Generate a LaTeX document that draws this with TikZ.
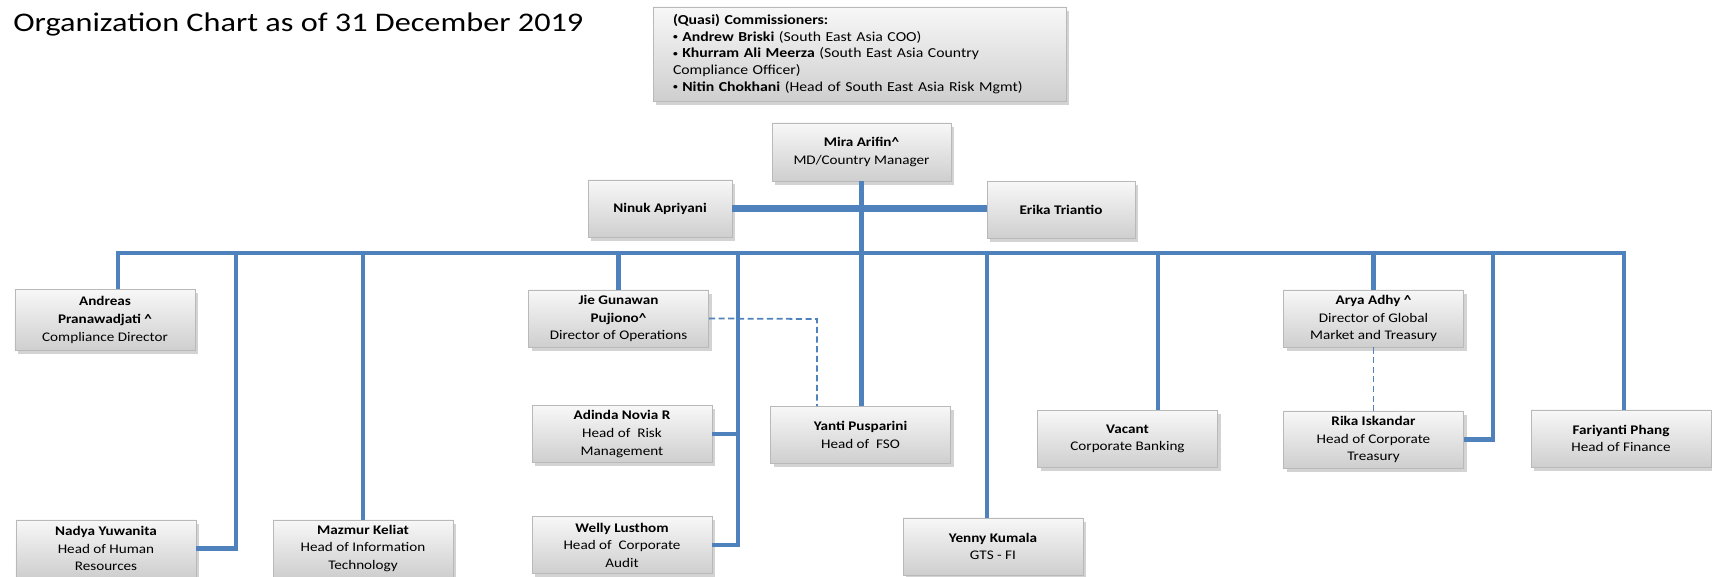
\documentclass[tikz,border=0pt]{standalone}
\usepackage{fontspec}
\setmainfont[FakeStretch=1.15]{Carlito}
\newfontfamily\titlefont[FakeStretch=1.2]{Carlito}
\usetikzlibrary{shadows}
\definecolor{orgblue}{RGB}{79,129,189}
\newcommand{\smallbul}{\raisebox{0.2ex}{\scalebox{0.6}{\textbullet}}}
\tikzset{
  orgbox/.style={draw=gray!55, line width=0.4pt, top color=gray!6, bottom color=gray!38,
    drop shadow={opacity=0.35, shadow xshift=0.6mm, shadow yshift=-0.8mm},
    minimum width=36mm, minimum height=11.4mm, inner sep=1pt, align=center,
    font=\fontsize{7.5}{10}\selectfont},
  orgline/.style={orgblue, line width=2.8pt},
  mainline/.style={orgblue, line width=4.2pt},
  dotline/.style={orgblue, line width=1pt, dash pattern=on 3.5pt off 2pt}
}
\begin{document}
\begin{tikzpicture}[x=0.2mm, y=-0.2mm]
    \useasboundingbox (0,0) rectangle (1712,577);

    % Title
    \node[anchor=base west, inner sep=0pt, font=\titlefont\fontsize{15.3}{18}\selectfont] (title) at (13,32) {Organization Chart as of 31 December 2019};

    % Commissioners
    \node[orgbox, align=left, text width=74.6mm, minimum width=82.6mm, minimum height=18.8mm,
      font=\fontsize{7.8}{9.5}\selectfont] (comm) at (859.5,54) {%
      \textbf{(Quasi) Commissioners:}\\
      \textbf{\smallbul\ Andrew Briski} (South East Asia COO)\\
      \textbf{\smallbul\ Khurram Ali Meerza} (South East Asia Country\\
      Compliance Officer)\\
      \textbf{\smallbul\ Nitin Chokhani} (Head of South East Asia Risk Mgmt)};

    % Top management
    \node[orgbox, minimum width=35.8mm, minimum height=11.6mm] (mira) at (861.5,152) {\textbf{Mira Arifin\textasciicircum}\\MD/Country Manager};
    \node[orgbox, minimum width=28.8mm] (ninuk) at (660,208.5) {\textbf{Ninuk Apriyani}};
    \node[orgbox, minimum width=29.6mm] (erika) at (1061,210) {\textbf{Erika Triantio}};

    % First row
    \node[orgbox, minimum height=12.2mm] (andreas) at (105,320) {\textbf{Andreas}\\\textbf{Pranawadjati \textasciicircum}\\Compliance Director};
    \node[orgbox] (jie) at (618.5,318.5) {\textbf{Jie Gunawan}\\\textbf{Pujiono\textasciicircum}\\Director of Operations};
    \node[orgbox] (arya) at (1373.5,318.5) {\textbf{Arya Adhy \textasciicircum}\\Director of Global\\Market and Treasury};

    % Second row
    \node[orgbox] (adinda) at (622,434) {\textbf{Adinda Novia R}\\Head of~ Risk\\Management};
    \node[orgbox] (yanti) at (860.5,435) {\textbf{Yanti Pusparini}\\Head of~ FSO};
    \node[orgbox] (vacant) at (1127.5,439) {\textbf{Vacant}\\Corporate Banking};
    \node[orgbox] (rika) at (1373.5,439.5) {\textbf{Rika Iskandar}\\Head of Corporate\\Treasury};
    \node[orgbox] (fariyanti) at (1621,438.5) {\textbf{Fariyanti Phang}\\Head of Finance};

    % Third row
    \node[orgbox] (nadya) at (106,548.5) {\textbf{Nadya Yuwanita}\\Head of Human\\Resources};
    \node[orgbox] (mazmur) at (363,548.5) {\textbf{Mazmur Keliat}\\Head of Information\\Technology};
    \node[orgbox] (welly) at (622,545) {\textbf{Welly Lusthom}\\Head of~ Corporate\\Audit};
    \node[orgbox] (yenny) at (993,546.5) {\textbf{Yenny Kumala}\\GTS - FI};

    % Bus points
    \coordinate (busL) at (118,253);
    \coordinate (busR) at (1624,253);
    \coordinate (hr) at (236,253);
    \coordinate (ops) at (738,253);
    \coordinate (gts) at (987,253);
    \coordinate (cb) at (1158,253);
    \coordinate (ct) at (1493,253);
    \coordinate (dash) at (817,319);

    % Connectors
    \draw[mainline] (ninuk.east) -- (ninuk.east -| erika.west);
    \draw[orgline] (mira.south) -- (mira.south |- yanti.north);
    \draw[orgline] (busL |- andreas.north) -- (busL) -- (busR) -- (busR |- fariyanti.north);
    \draw[orgline] (hr) |- (nadya.east);
    \draw[orgline] (mazmur.north) -- (mazmur.north |- busL);
    \draw[orgline] (jie.north) -- (jie.north |- busL);
    \draw[orgline] (ops) |- (welly.east);
    \draw[orgline] (adinda.east) -- (adinda.east -| ops);
    \draw[orgline] (gts) -- (gts |- yenny.north);
    \draw[orgline] (cb) -- (cb |- vacant.north);
    \draw[orgline] (arya.north) -- (arya.north |- busL);
    \draw[orgline] (ct) |- (rika.east);
    \draw[dotline] (jie.east) -- (dash) -- (dash |- yanti.north);
    \draw[dotline] (arya.south) -- (rika.north);
\end{tikzpicture}
\end{document}
